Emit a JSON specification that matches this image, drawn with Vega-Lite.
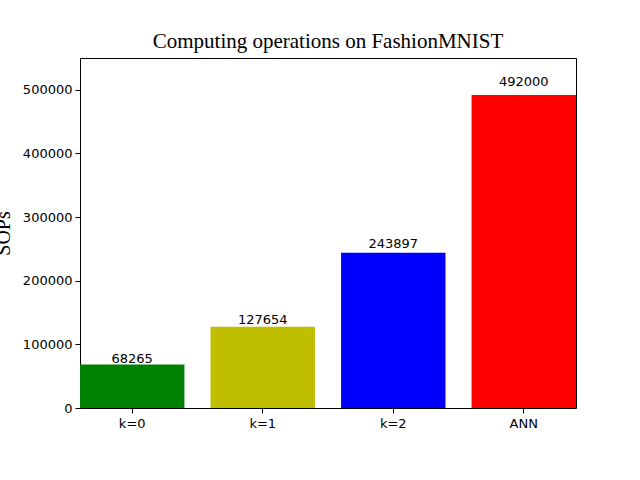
{
  "$schema": "https://vega.github.io/schema/vega-lite/v6.json",
  "autosize": {"type": "none"},
  "width": 496,
  "height": 350,
  "padding": {"left": 80, "top": 58, "right": 64, "bottom": 72},
  "background": "white",
  "config": {
    "view": {"stroke": "black", "strokeWidth": 1},
    "axis": {"grid": false, "domain": false, "tickColor": "black", "tickSize": 5, "labelFont": "DejaVu Sans", "labelFontSize": 13, "labelColor": "black"}
  },
  "title": {"text": "Computing operations on FashionMNIST", "font": "Liberation Serif", "fontSize": 21, "fontWeight": "normal", "color": "black", "offset": 6},
  "data": {"values": [
    {"name": "k=0", "sops": 68265, "color": "green"},
    {"name": "k=1", "sops": 127654, "color": "y"},
    {"name": "k=2", "sops": 243897, "color": "blue"},
    {"name": "ANN", "sops": 492000, "color": "red"}
  ]},
  "transform": [{"calculate": "datum.sops * 1.03", "as": "labelY"}],
  "encoding": {
    "x": {"field": "name", "type": "nominal", "sort": null, "scale": {"paddingInner": 0.2, "paddingOuter": 0}, "axis": {"title": null, "labelAngle": 0, "labelPadding": 4}}
  },
  "layer": [
    {"mark": {"type": "bar"}, "encoding": {
      "y": {"field": "sops", "type": "quantitative", "scale": {"domain": [0, 550000], "nice": false}, "axis": {"title": "SOPs", "format": "d", "titleFont": "Liberation Serif", "titleFontSize": 20, "titleFontWeight": "normal", "titleColor": "black", "titleAngle": -90, "titleX": -71, "titleY": 175, "titleAlign": "center", "titleBaseline": "alphabetic", "values": [0, 100000, 200000, 300000, 400000, 500000], "labelPadding": 3}},
      "color": {"field": "color", "type": "nominal", "scale": {"domain": ["green", "y", "blue", "red"], "range": ["#008000", "#bfbf00", "#0000ff", "#ff0000"]}, "legend": null}}},
    {"mark": {"type": "text", "font": "DejaVu Sans", "fontSize": 13, "baseline": "alphabetic", "color": "black"}, "encoding": {
      "y": {"field": "labelY", "type": "quantitative", "scale": {"domain": [0, 550000], "nice": false}},
      "text": {"field": "sops", "type": "quantitative", "format": "d"}}}
  ]
}
